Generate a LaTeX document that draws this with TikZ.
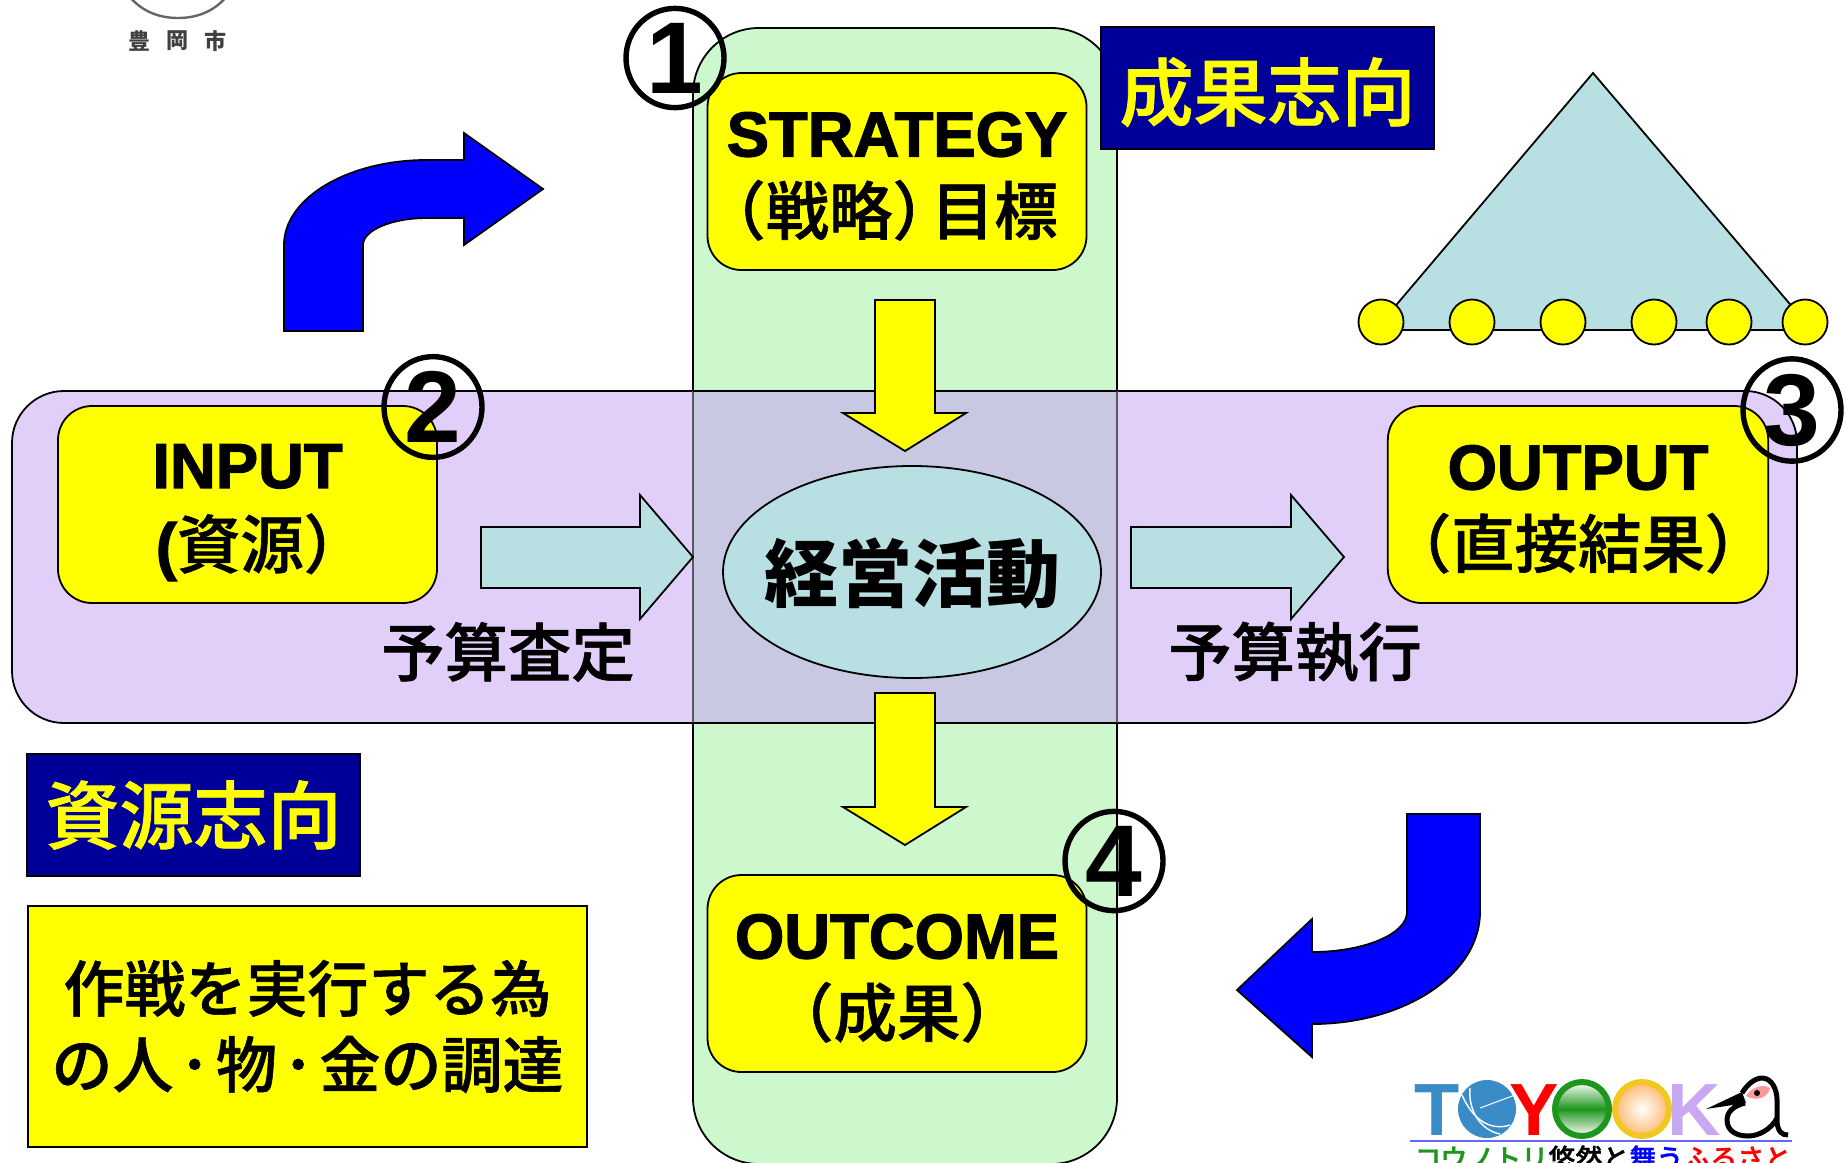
\documentclass[tikz,border=0pt]{standalone}
\usepackage{fontspec}
\usetikzlibrary{shapes.geometric}
\setmainfont[BoldFeatures={FakeBold=2}]{Liberation Sans}
\newfontfamily\plainbold{Liberation Sans Bold}
\newfontfamily\cjk{Noto Sans CJK JP}
\newfontfamily\cjkm[FakeBold=1]{Noto Sans CJK JP Medium}
\newcommand\cjkmd{\cjkm\mdseries}
\newcommand\topfix{\rule{0pt}{27pt}}
\definecolor{pureyellow}{RGB}{255,255,0}
\definecolor{greenband}{HTML}{CDF7CD}
\definecolor{purpleband}{HTML}{E2CFF9}
\definecolor{overlapband}{HTML}{C8C8E2}
\definecolor{paleteal}{HTML}{B8DFE2}
\definecolor{navybox}{HTML}{000099}
\definecolor{logoblue}{HTML}{3A8CC8}
\definecolor{logogreen}{HTML}{1E961E}
\definecolor{logoyellow}{HTML}{F2C820}
\definecolor{logolav}{HTML}{C8A8F0}
\tikzset{
  outl/.style={draw=black,line width=0.9pt},
  yellowbox/.style={outl,fill=pureyellow,rectangle,rounded corners=17pt,minimum width=189.5pt,minimum height=98.5pt,
    align=center,inner sep=0pt,outer sep=0pt,font=\bfseries\fontsize{31.7}{39}\selectfont},
  navylabel/.style={outl,fill=navybox,text=pureyellow,rectangle,minimum width=166.5pt,minimum height=61pt,
    inner sep=0pt,outer sep=0pt,font=\cjkmd\fontsize{37}{40}\selectfont},
  plainlabel/.style={inner sep=0pt,font=\cjkmd\fontsize{31.7}{36}\selectfont},
  numring/.style={ellipse,draw=black,line width=2.7pt,minimum width=49pt,minimum height=49pt,inner sep=0pt,
    font=\plainbold\fontsize{51}{51}\selectfont},
  footcircle/.style={circle,outl,fill=pureyellow,minimum size=22.5pt,inner sep=0pt},
  blockteal/.style={outl,fill=paleteal,line join=miter},
  blockyellow/.style={outl,fill=pureyellow,line join=miter},
  blockblue/.style={outl,fill=blue,line join=miter},
  logotext/.style={inner sep=0pt,font=\plainbold\fontsize{37}{37}\selectfont},
  tinytext/.style={inner sep=0pt,font=\cjkmd\fontsize{13.5}{14}\selectfont},
  citytext/.style={inner sep=0pt,text=black!75,font=\cjk\bfseries\fontsize{11}{11}\selectfont},
}
\begin{document}
\begin{tikzpicture}[x=0.5pt,y=-0.5pt]
\useasboundingbox (0,0) rectangle (1845,1162);
\clip (0,0) rectangle (1845,1162);
% bands
\path[outl,fill=greenband,rounded corners=33pt] (693,28) rectangle (1117,1164);
\path[outl,fill=purpleband,rounded corners=26pt] (12,391) rectangle (1797,723);
\fill[overlapband] (693,392) rectangle (1117,722);
\draw[black!65,line width=0.9pt] (693,391) -- (693,723) (1117,391) -- (1117,723);
\draw[black,line width=0.9pt] (693,391) -- (1117,391) (693,723) -- (1117,723);
% city emblem
\draw[black!60,line width=1.2pt] (126,-8) .. controls (140,12) and (160,18) .. (178,18) .. controls (196,18) and (216,12) .. (230,-8);
\node[citytext] (cityA) at (139,41) {豊};
\node[citytext] (cityB) at (177,41) {岡};
\node[citytext] (cityC) at (215,41) {市};
% blue bent arrows
\draw[blockblue] (284,331) -- (284,245) .. controls (284,198) and (348,160) .. (427,160) -- (464,160) -- (464,133) -- (543,189) -- (464,245) -- (464,218) -- (427,218) .. controls (392,218) and (363,230) .. (363,245) -- (363,331) -- cycle;
\draw[blockblue] (1480,814) -- (1480,912) .. controls (1480,974) and (1405,1024) .. (1312,1024) -- (1312,1057) -- (1237,990) -- (1312,919) -- (1312,952) .. controls (1364,952) and (1407,934) .. (1407,912) -- (1407,814) -- cycle;
% triangle
\draw[blockteal] (1593,73) -- (1375,330) -- (1812,330) -- cycle;
\foreach \n/\cx in {fa/1381,fb/1472,fc/1563,fd/1654,fe/1729,ff/1805}
  \node[footcircle] (\n) at (\cx,322) {};
% yellow block arrows
\draw[blockyellow] (875,300) -- (935,300) -- (935,413) -- (966,413) -- (905,451) -- (843,413) -- (875,413) -- cycle;
\draw[blockyellow] (875,693) -- (935,693) -- (935,807) -- (966,807) -- (905,845) -- (843,807) -- (875,807) -- cycle;
% teal block arrows
\draw[blockteal] (481,527) -- (640,527) -- (640,495) -- (693,557) -- (640,619) -- (640,588) -- (481,588) -- cycle;
\draw[blockteal] (1131,527) -- (1291,527) -- (1291,495) -- (1344,557) -- (1291,619) -- (1291,588) -- (1131,588) -- cycle;
% centre
\draw[outl,fill=paleteal] (912,572) ellipse (189 and 106);
\node[inner sep=0pt,font=\cjk\bfseries\fontsize{37}{40}\selectfont] (core) at (912,574) {経営活動};
% boxes
\node[yellowbox] (strategy) at (897,171.5) {\topfix STRATEGY\\{\cjkmd \kern-8pt（戦略）\kern-12.5pt 目標\kern9pt}};
\node[yellowbox] (input) at (247.5,504.5) {\rule{0pt}{30pt}INPUT\\[1pt]({\cjkmd 資源）\kern-14pt}};
\node[yellowbox] (output) at (1578,504.5) {\topfix OUTPUT\\{\cjkmd （直接結果）}};
\node[yellowbox] (outcome) at (897,973.5) {\topfix OUTCOME\\{\cjkmd （成果）}};
\node[navylabel] (resultlabel) at (1267.5,88) {\rule{0pt}{35.5pt}成果志向};
\node[navylabel] (sourcelabel) at (193.5,815) {資源志向};
\node[outl,fill=pureyellow,rectangle,minimum width=279.5pt,minimum height=120.5pt,inner sep=0pt,align=center,font=\cjkmd\fontsize{30.5}{38}\selectfont] (note) at (307.5,1026.5) {作戦を実行する為\\の人\kern3pt･\kern3pt物\kern3pt･\kern3pt金の調達};
\node[plainlabel] (budgetA) at (508,652) {予算査定};
\node[plainlabel] (budgetB) at (1295,652) {予算執行};
% numbers
\node[numring] (n1) at (675,58) {1};
\node[numring] (n2) at (433,407) {2};
\node[numring] (n3) at (1792,410) {3};
\node[numring] (n4) at (1114,861) {4};
% logo
\node[logotext,text=logoblue] (logoT) at (1437,1110) {T};
\fill[logoblue] (1487,1109) circle (29);
\draw[white,line width=0.7pt] (1462,1095) .. controls (1475,1125) and (1495,1130) .. (1510,1125);
\draw[white,line width=0.7pt] (1470,1088) .. controls (1468,1110) and (1480,1130) .. (1500,1134);
\draw[white,line width=0.5pt] (1480,1108) -- (1515,1095);
\node[logotext,text=red] (logoY) at (1534,1110) {Y};
\shade[top color=white,bottom color=white,middle color=logogreen] (1582,1109) circle (27);
\draw[logogreen,line width=3pt] (1582,1109) circle (27);
\shade[inner color=white,outer color=orange!55] (1642,1109) circle (27);
\draw[logoyellow,line width=3pt] (1642,1109) circle (27);
\node[logotext,text=logolav] (logoK) at (1694,1110) {K};
\draw[black,line width=2.5pt] (1742,1093) .. controls (1748,1083) and (1756,1078) .. (1762,1078) .. controls (1772,1078) and (1777,1090) .. (1777,1100) -- (1777,1122) .. controls (1778,1132) and (1782,1135) .. (1788,1135);
\draw[black,line width=2.5pt] (1745,1103) .. controls (1733,1106) and (1727,1112) .. (1727,1120) .. controls (1727,1132) and (1738,1136) .. (1748,1136) .. controls (1760,1136) and (1772,1128) .. (1777,1118);
\fill[black] (1706,1109) -- (1742,1092) -- (1746,1103) -- cycle;
\fill[red!40!white] (1746,1096) .. controls (1752,1086) and (1764,1084) .. (1770,1088) .. controls (1768,1098) and (1756,1102) .. cycle;
\fill[black] (1757,1093) circle (3);
\draw[blue!60!white,line width=1pt] (1410,1141) -- (1792,1141);
\node[tinytext,anchor=west] (logoline) at (1414,1158) {{\color{logogreen}コウノトリ}{\color{black}悠然と}{\color{blue}舞う}{\color{red}ふるさと}};
\end{tikzpicture}
\end{document}
